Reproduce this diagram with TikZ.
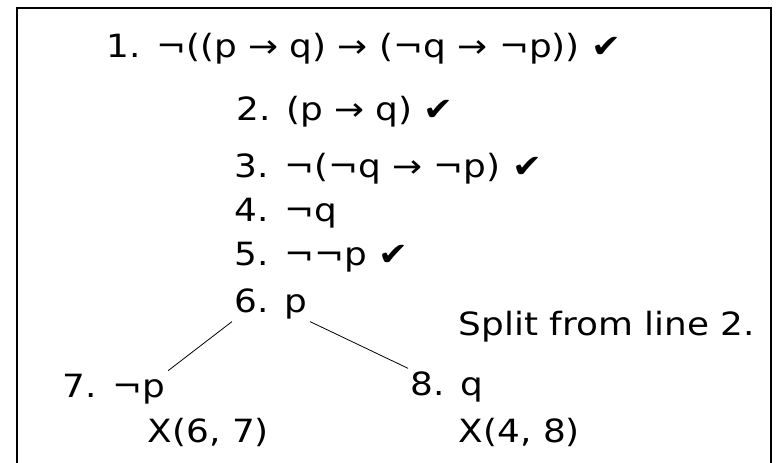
\documentclass[tikz,border=0pt]{standalone}
\usepackage{fontspec}
\setmainfont[FakeStretch=1.12]{DejaVu Sans}
\usetikzlibrary{positioning}

\begin{document}
\begin{tikzpicture}[
  x=0.75pt,
  y=-0.75pt,
  line/.style={anchor=base west, inner sep=2pt, font=\fontsize{24}{29}\selectfont},
  branch/.style={line width=0.6pt},
  frame/.style={line width=1.5pt}
]
\useasboundingbox (0,0) rectangle (777,463);
\draw[frame] (17,470) -- (17,8) -- (771,8) -- (771,470);

\node[line] (l1) at (104,58) {1. ¬((p → q) → (¬q → ¬p)) ✔};
\node[line] (l2) at (234,121) {2. (p → q) ✔};
\node[line] (l3) at (232,178) {3. ¬(¬q → ¬p) ✔};
\node[line] (l4) at (232,222) {4. ¬q};
\node[line] (l5) at (232,265) {5. ¬¬p ✔};
\node[line] (l6) at (232,312) {6. p};
\node[line] (split) at (456,335) {Split from line 2.};
\node[line] (l7) at (60,397) {7. ¬p};
\node[line] (l8) at (408,395) {8. q};
\node[line] (x7) at (145,442) {X(6, 7)};
\node[line] (x8) at (456,442) {X(4, 8)};

\draw[branch] (l6.south west) -- (l7.north east);
\draw[branch] (l6.south east) -- (l8.north west);

\end{tikzpicture}
\end{document}
